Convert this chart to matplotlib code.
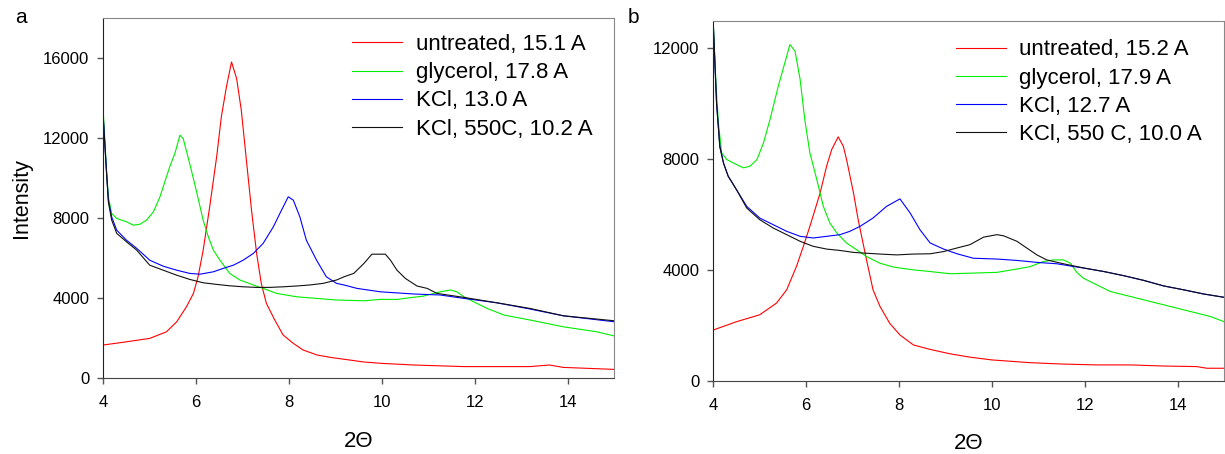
import matplotlib
matplotlib.use("Agg")
import matplotlib.pyplot as plt

plt.rcParams['font.family'] = ['Liberation Sans', 'DejaVu Sans']

# panel a
a_red_x = [4.0, 4.5, 5.0, 5.36, 5.58, 5.79, 5.94, 6.04, 6.15, 6.29, 6.44, 6.54, 6.65, 6.76, 6.87, 6.97,
           7.08, 7.19, 7.3, 7.4, 7.51, 7.69, 7.87, 8.09, 8.3, 8.6, 8.89, 9.61, 10.0, 10.68, 11.76, 12.47,
           13.18, 13.6, 13.9, 15.0]
a_red = [1650, 1810, 1980, 2310, 2810, 3560, 4230, 5060, 6390, 8560, 11060, 13050, 14550, 15800, 14970, 13390,
         10890, 8390, 6230, 4730, 3730, 2900, 2150, 1730, 1400, 1150, 1030, 800, 730, 650, 570, 570,
         570, 650, 530, 430]

a_green_x = [4.0, 4.07, 4.11, 4.18, 4.29, 4.5, 4.65, 4.79, 4.93, 5.08, 5.22, 5.43, 5.54, 5.65, 5.72, 5.86,
             6.0, 6.15, 6.26, 6.37, 6.51, 6.72, 6.94, 7.23, 7.44, 7.73, 8.16, 8.59, 9.02, 9.61, 9.96, 10.32,
             10.9, 11.25, 11.47, 11.61, 11.76, 11.97, 12.26, 12.62, 13.18, 13.9, 14.62, 15.0]
a_green = [13300, 10390, 9060, 8225, 7975, 7810, 7640, 7690, 7890, 8310, 9060, 10560, 11220, 12140, 11970, 10720,
           9390, 7890, 7060, 6390, 5890, 5230, 4900, 4650, 4480, 4230, 4060, 3980, 3900, 3860, 3930, 3930,
           4100, 4310, 4400, 4310, 4060, 3810, 3480, 3150, 2900, 2560, 2310, 2100]

a_blue_x = [4.0, 4.06, 4.11, 4.18, 4.29, 4.5, 4.72, 5.0, 5.29, 5.58, 5.86, 6.08, 6.37, 6.58, 6.8, 7.01,
            7.23, 7.44, 7.66, 7.8, 7.98, 8.09, 8.23, 8.37, 8.59, 8.8, 9.02, 9.18, 9.46, 9.96, 10.68, 11.25,
            11.76, 12.47, 13.18, 13.9, 15.0]
a_blue = [13050, 10720, 8890, 8060, 7390, 6890, 6480, 5890, 5590, 5390, 5230, 5190, 5310, 5480, 5640, 5890,
          6230, 6730, 7560, 8225, 9060, 8890, 8060, 6890, 5890, 5060, 4730, 4650, 4480, 4310, 4200, 4150,
          3980, 3760, 3450, 3110, 2810]

a_black_x = [4.0, 4.06, 4.11, 4.18, 4.29, 4.5, 4.72, 5.0, 5.29, 5.58, 5.86, 6.15, 6.44, 6.72, 7.01, 7.3,
             7.58, 7.87, 8.16, 8.44, 8.73, 9.02, 9.18, 9.39, 9.61, 9.78, 10.07, 10.18, 10.32, 10.5, 10.75,
             10.97, 11.18, 11.76, 12.47, 13.18, 13.9, 15.0]
a_black = [13000, 10600, 8800, 7900, 7230, 6810, 6390, 5640, 5390, 5140, 4930, 4760, 4680, 4610, 4560, 4530,
           4530, 4560, 4600, 4650, 4730, 4900, 5060, 5230, 5730, 6190, 6190, 5890, 5390, 4980, 4600,
           4480, 4230, 4030, 3760, 3480, 3110, 2860]

a_labels = ["untreated, 15.1 A", "glycerol, 17.8 A", "KCl, 13.0 A", "KCl, 550C, 10.2 A"]

# panel b
b_red_x = [4.0, 4.5, 5.0, 5.36, 5.58, 5.79, 5.94, 6.08, 6.19, 6.3, 6.44, 6.55, 6.69, 6.8, 6.87, 7.02,
           7.12, 7.3, 7.44, 7.59, 7.8, 8.02, 8.31, 8.67, 9.1, 9.53, 10.0, 10.83, 11.54, 12.26, 12.98,
           13.7, 14.41, 14.63, 15.0]
b_red = [1840, 2140, 2390, 2810, 3290, 4130, 4860, 5580, 6180, 6780, 7750, 8350, 8810, 8470, 7990, 6780,
         5820, 4370, 3290, 2690, 2080, 1660, 1300, 1140, 980, 860, 760, 660, 610, 580, 580,
         540, 520, 460, 460]

b_green_x = [4.0, 4.06, 4.11, 4.18, 4.29, 4.5, 4.65, 4.79, 4.94, 5.08, 5.22, 5.4, 5.54, 5.65, 5.76, 5.87,
             5.97, 6.08, 6.23, 6.37, 6.51, 6.66, 6.87, 7.09, 7.3, 7.59, 7.88, 8.31, 8.67, 9.1, 9.53, 10.11,
             10.54, 10.83, 11.11, 11.33, 11.54, 11.69, 11.83, 11.97, 12.26, 12.55, 12.98, 13.41, 13.84,
             14.27, 14.7, 15.0]
b_green = [12870, 10640, 9310, 8230, 7990, 7810, 7690, 7750, 7990, 8590, 9430, 10640, 11480, 12140, 11900, 10880,
           9430, 8230, 7260, 6300, 5700, 5340, 4980, 4730, 4490, 4250, 4110, 4010, 3950, 3870, 3890, 3920,
           4040, 4130, 4310, 4370, 4370, 4250, 3920, 3710, 3470, 3230, 3050, 2870, 2690,
           2510, 2330, 2140]

b_blue_x = [4.0, 4.07, 4.14, 4.22, 4.32, 4.5, 4.72, 5.0, 5.29, 5.58, 5.87, 6.15, 6.44, 6.73, 6.94, 7.16,
            7.44, 7.73, 8.02, 8.24, 8.45, 8.67, 8.96, 9.25, 9.6, 10.11, 10.54, 10.97, 11.4, 11.76, 12.0,
            12.41, 12.84, 13.27, 13.7, 14.13, 14.56, 15.0]
b_blue = [12800, 10040, 8470, 7870, 7390, 6900, 6300, 5880, 5640, 5400, 5220, 5160, 5220, 5280, 5400, 5580,
          5880, 6300, 6570, 6060, 5460, 4980, 4760, 4590, 4430, 4400, 4350, 4280, 4230, 4130, 4070,
          3950, 3800, 3630, 3430, 3290, 3140, 3020]

b_black_x = [4.0, 4.07, 4.14, 4.22, 4.32, 4.5, 4.72, 5.0, 5.29, 5.58, 5.87, 6.15, 6.44, 6.73, 7.02, 7.3,
             7.59, 7.95, 8.31, 8.67, 8.96, 9.25, 9.53, 9.82, 10.11, 10.25, 10.54, 10.75, 10.97, 11.18,
             11.54, 12.0, 12.41, 12.84, 13.27, 13.7, 14.13, 14.56, 15.0]
b_black = [12900, 10000, 8450, 7850, 7390, 6900, 6240, 5820, 5520, 5280, 5040, 4860, 4760, 4710, 4640, 4610,
           4580, 4550, 4580, 4590, 4670, 4800, 4920, 5190, 5280, 5240, 5040, 4800, 4550, 4370,
           4230, 4070, 3950, 3800, 3630, 3430, 3290, 3140, 3020]

b_labels = ["untreated, 15.2 A", "glycerol, 17.9 A", "KCl, 12.7 A", "KCl, 550 C, 10.0 A"]

colors = ['#ff0000', '#00ee00', '#0000ff', '#111111']


def draw_panel(ax, series, labels, ymax, yticks, legend_anchor):
    for (x, y), c, lab in zip(series, colors, labels):
        ax.plot(x, y, color=c, lw=0.8, label=lab)
    ax.set_xlim(4, 15)
    ax.set_ylim(0, ymax)
    ax.set_xticks([4, 6, 8, 10, 12, 14])
    ax.set_yticks(yticks)
    ax.tick_params(direction='out', length=4, width=1, color='#555555', labelsize=12)
    ax.tick_params(axis='x', pad=8)
    ax.tick_params(axis='y', pad=6)
    ax.spines['left'].set_color('#222222')
    ax.spines['bottom'].set_color('#444444')
    ax.spines['top'].set_color('#888888')
    ax.spines['right'].set_color('#888888')
    ax.set_xlabel("2\u0398", fontsize=16, labelpad=15)
    ax.legend(loc='upper left', bbox_to_anchor=legend_anchor, frameon=False, fontsize=16,
              handlelength=2.25, handletextpad=0.6, labelspacing=0.32, borderpad=0, borderaxespad=0)


fig = plt.figure(figsize=(12.25, 4.54), dpi=100)
ax_a = fig.add_axes([0.0843, 0.1674, 0.4173, 0.793])
ax_b = fig.add_axes([0.5823, 0.1608, 0.4169, 0.7936])

draw_panel(ax_a, [(a_red_x, a_red), (a_green_x, a_green), (a_blue_x, a_blue), (a_black_x, a_black)],
           a_labels, 18000, [0, 4000, 8000, 12000, 16000], (0.487, 0.955))
ax_a.set_ylabel("Intensity", fontsize=15.5, labelpad=8)

draw_panel(ax_b, [(b_red_x, b_red), (b_green_x, b_green), (b_blue_x, b_blue), (b_black_x, b_black)],
           b_labels, 13000, [0, 4000, 8000, 12000], (0.475, 0.948))

fig.text(0.012, 0.962, "a", fontsize=15, va='center')
fig.text(0.512, 0.962, "b", fontsize=15, va='center')

fig.savefig("out.png", dpi=100)
